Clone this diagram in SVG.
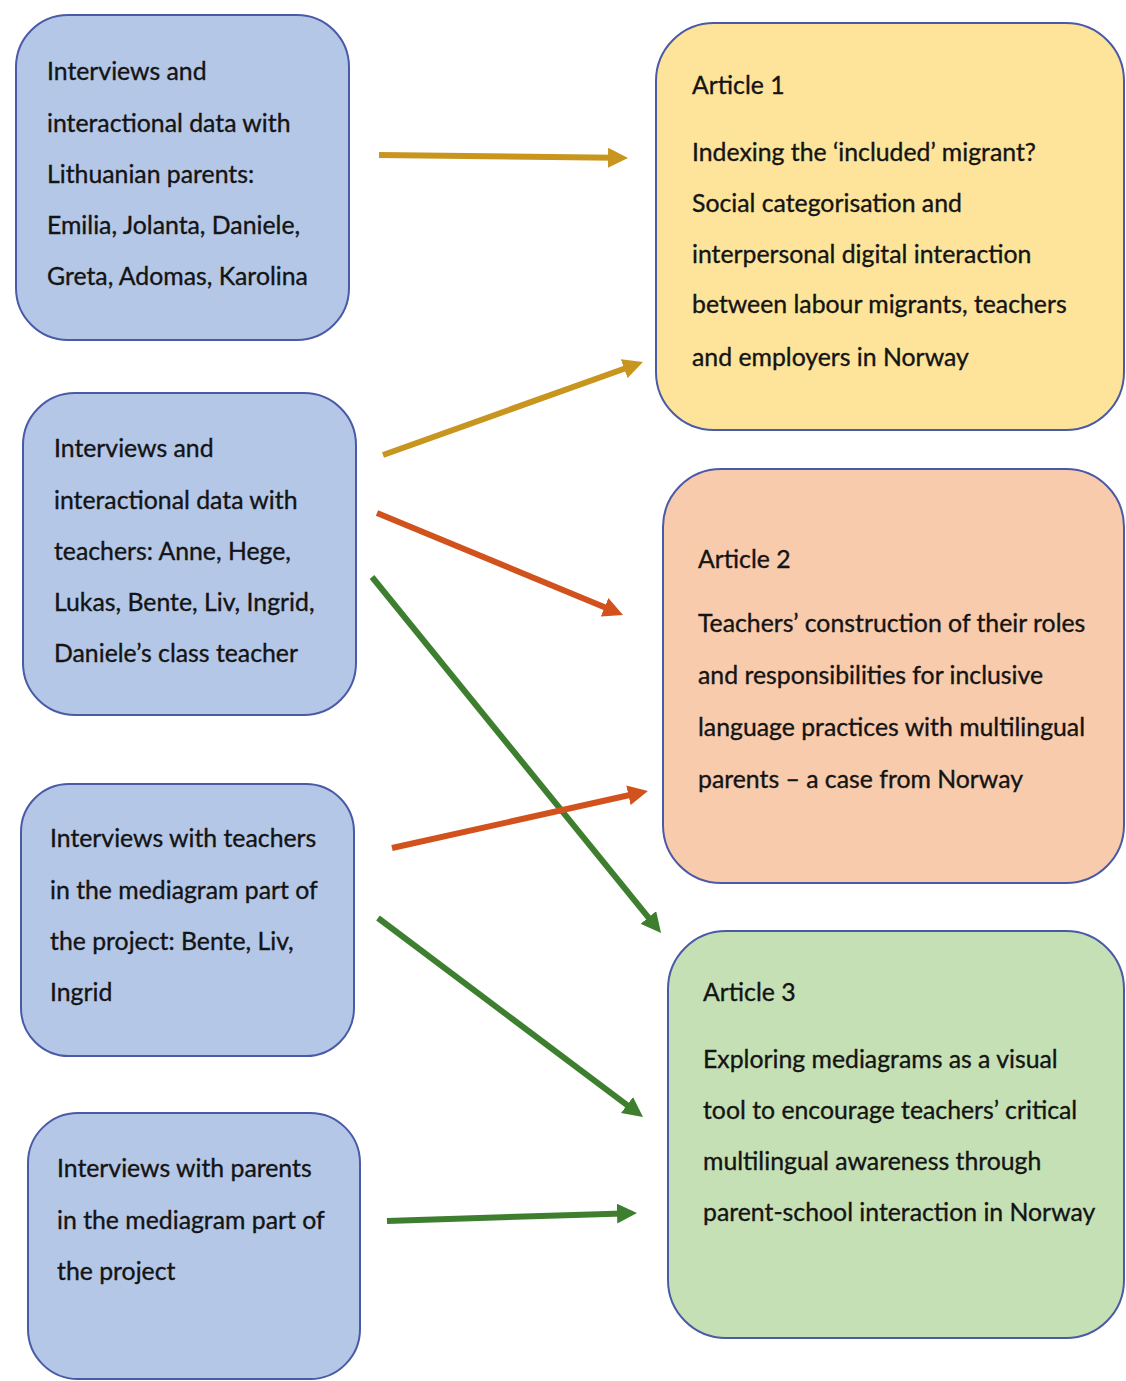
<svg xmlns="http://www.w3.org/2000/svg" width="1126" height="1381" viewBox="0 0 1126 1381">
  <style>
    .box { stroke: #4a5aa6; stroke-width: 2; }
    .src { fill: #b4c7e7; }
    .a1 { fill: #fde49a; }
    .a2 { fill: #f8cbad; }
    .a3 { fill: #c6e0b5; }
    text { font-family: Lato, "Open Sans", "Liberation Sans", sans-serif; font-size: 24.8px; fill: #141414; stroke: #141414; stroke-width: 0.35; }
    .arr { stroke-width: 6; fill: none; }
    .gold { stroke: #c8951f; }
    .red { stroke: #d2521d; }
    .green { stroke: #3d7f2e; }
  </style>
  <defs>
    <marker id="hGold" markerUnits="userSpaceOnUse" viewBox="0 0 20 20" markerWidth="20" markerHeight="20" refX="6" refY="10" orient="auto">
      <path d="M0,0 L20,10 L0,20 z" fill="#c8951f"/>
    </marker>
    <marker id="hRed" markerUnits="userSpaceOnUse" viewBox="0 0 20 20" markerWidth="20" markerHeight="20" refX="6" refY="10" orient="auto">
      <path d="M0,0 L20,10 L0,20 z" fill="#d2521d"/>
    </marker>
    <marker id="hGreen" markerUnits="userSpaceOnUse" viewBox="0 0 20 20" markerWidth="20" markerHeight="20" refX="6" refY="10" orient="auto">
      <path d="M0,0 L20,10 L0,20 z" fill="#3d7f2e"/>
    </marker>
  </defs>

  <rect width="1126" height="1381" fill="#ffffff"/>

  <!-- Data sources -->
  <g id="src-lithuanian-parents">
    <rect class="box src" x="16" y="15" width="333" height="325" rx="52"/>
    <text x="47" y="80">Interviews and</text>
    <text x="47" y="132">interactional data with</text>
    <text x="47" y="183">Lithuanian parents:</text>
    <text x="47" y="234">Emilia, Jolanta, Daniele,</text>
    <text x="47" y="285">Greta, Adomas, Karolina</text>
  </g>

  <g id="src-teachers">
    <rect class="box src" x="23" y="393" width="333" height="322" rx="52"/>
    <text x="54" y="457">Interviews and</text>
    <text x="54" y="509">interactional data with</text>
    <text x="54" y="560">teachers: Anne, Hege,</text>
    <text x="54" y="611">Lukas, Bente, Liv, Ingrid,</text>
    <text x="54" y="662">Daniele’s class teacher</text>
  </g>

  <g id="src-mediagram-teachers">
    <rect class="box src" x="21" y="784" width="333" height="272" rx="48"/>
    <text x="50" y="847">Interviews with teachers</text>
    <text x="50" y="899">in the mediagram part of</text>
    <text x="50" y="950">the project: Bente, Liv,</text>
    <text x="50" y="1001">Ingrid</text>
  </g>

  <g id="src-mediagram-parents">
    <rect class="box src" x="28" y="1113" width="332" height="266" rx="50"/>
    <text x="57" y="1177">Interviews with parents</text>
    <text x="57" y="1229">in the mediagram part of</text>
    <text x="57" y="1280">the project</text>
  </g>

  <!-- Articles -->
  <g id="article-1">
    <rect class="box a1" x="656" y="23" width="468" height="407" rx="58"/>
    <text x="692" y="94">Article 1</text>
    <text x="692" y="161">Indexing the ‘included’ migrant?</text>
    <text x="692" y="212">Social categorisation and</text>
    <text x="692" y="263">interpersonal digital interaction</text>
    <text x="692" y="313">between labour migrants, teachers</text>
    <text x="692" y="366">and employers in Norway</text>
  </g>

  <g id="article-2">
    <rect class="box a2" x="663" y="469" width="461" height="414" rx="58"/>
    <text x="698" y="568">Article 2</text>
    <text x="698" y="632">Teachers’ construction of their roles</text>
    <text x="698" y="684">and responsibilities for inclusive</text>
    <text x="698" y="736">language practices with multilingual</text>
    <text x="698" y="788">parents – a case from Norway</text>
  </g>

  <g id="article-3">
    <rect class="box a3" x="668" y="931" width="456" height="407" rx="58"/>
    <text x="703" y="1001">Article 3</text>
    <text x="703" y="1068">Exploring mediagrams as a visual</text>
    <text x="703" y="1119">tool to encourage teachers’ critical</text>
    <text x="703" y="1170">multilingual awareness through</text>
    <text x="703" y="1221">parent-school interaction in Norway</text>
  </g>

  <!-- Connectors -->
  <g id="connectors">
    <line class="arr gold" x1="379" y1="155" x2="614" y2="157.8" marker-end="url(#hGold)"/>
    <line class="arr gold" x1="383" y1="455" x2="629.8" y2="366.7" marker-end="url(#hGold)"/>
    <line class="arr red" x1="377" y1="513" x2="610.1" y2="609.6" marker-end="url(#hRed)"/>
    <line class="arr green" x1="372" y1="577" x2="652.2" y2="922.1" marker-end="url(#hGreen)"/>
    <line class="arr red" x1="392" y1="848" x2="634.3" y2="794" marker-end="url(#hRed)"/>
    <line class="arr green" x1="378" y1="918" x2="631.8" y2="1108.6" marker-end="url(#hGreen)"/>
    <line class="arr green" x1="387" y1="1221" x2="623" y2="1213.4" marker-end="url(#hGreen)"/>
  </g>
</svg>
